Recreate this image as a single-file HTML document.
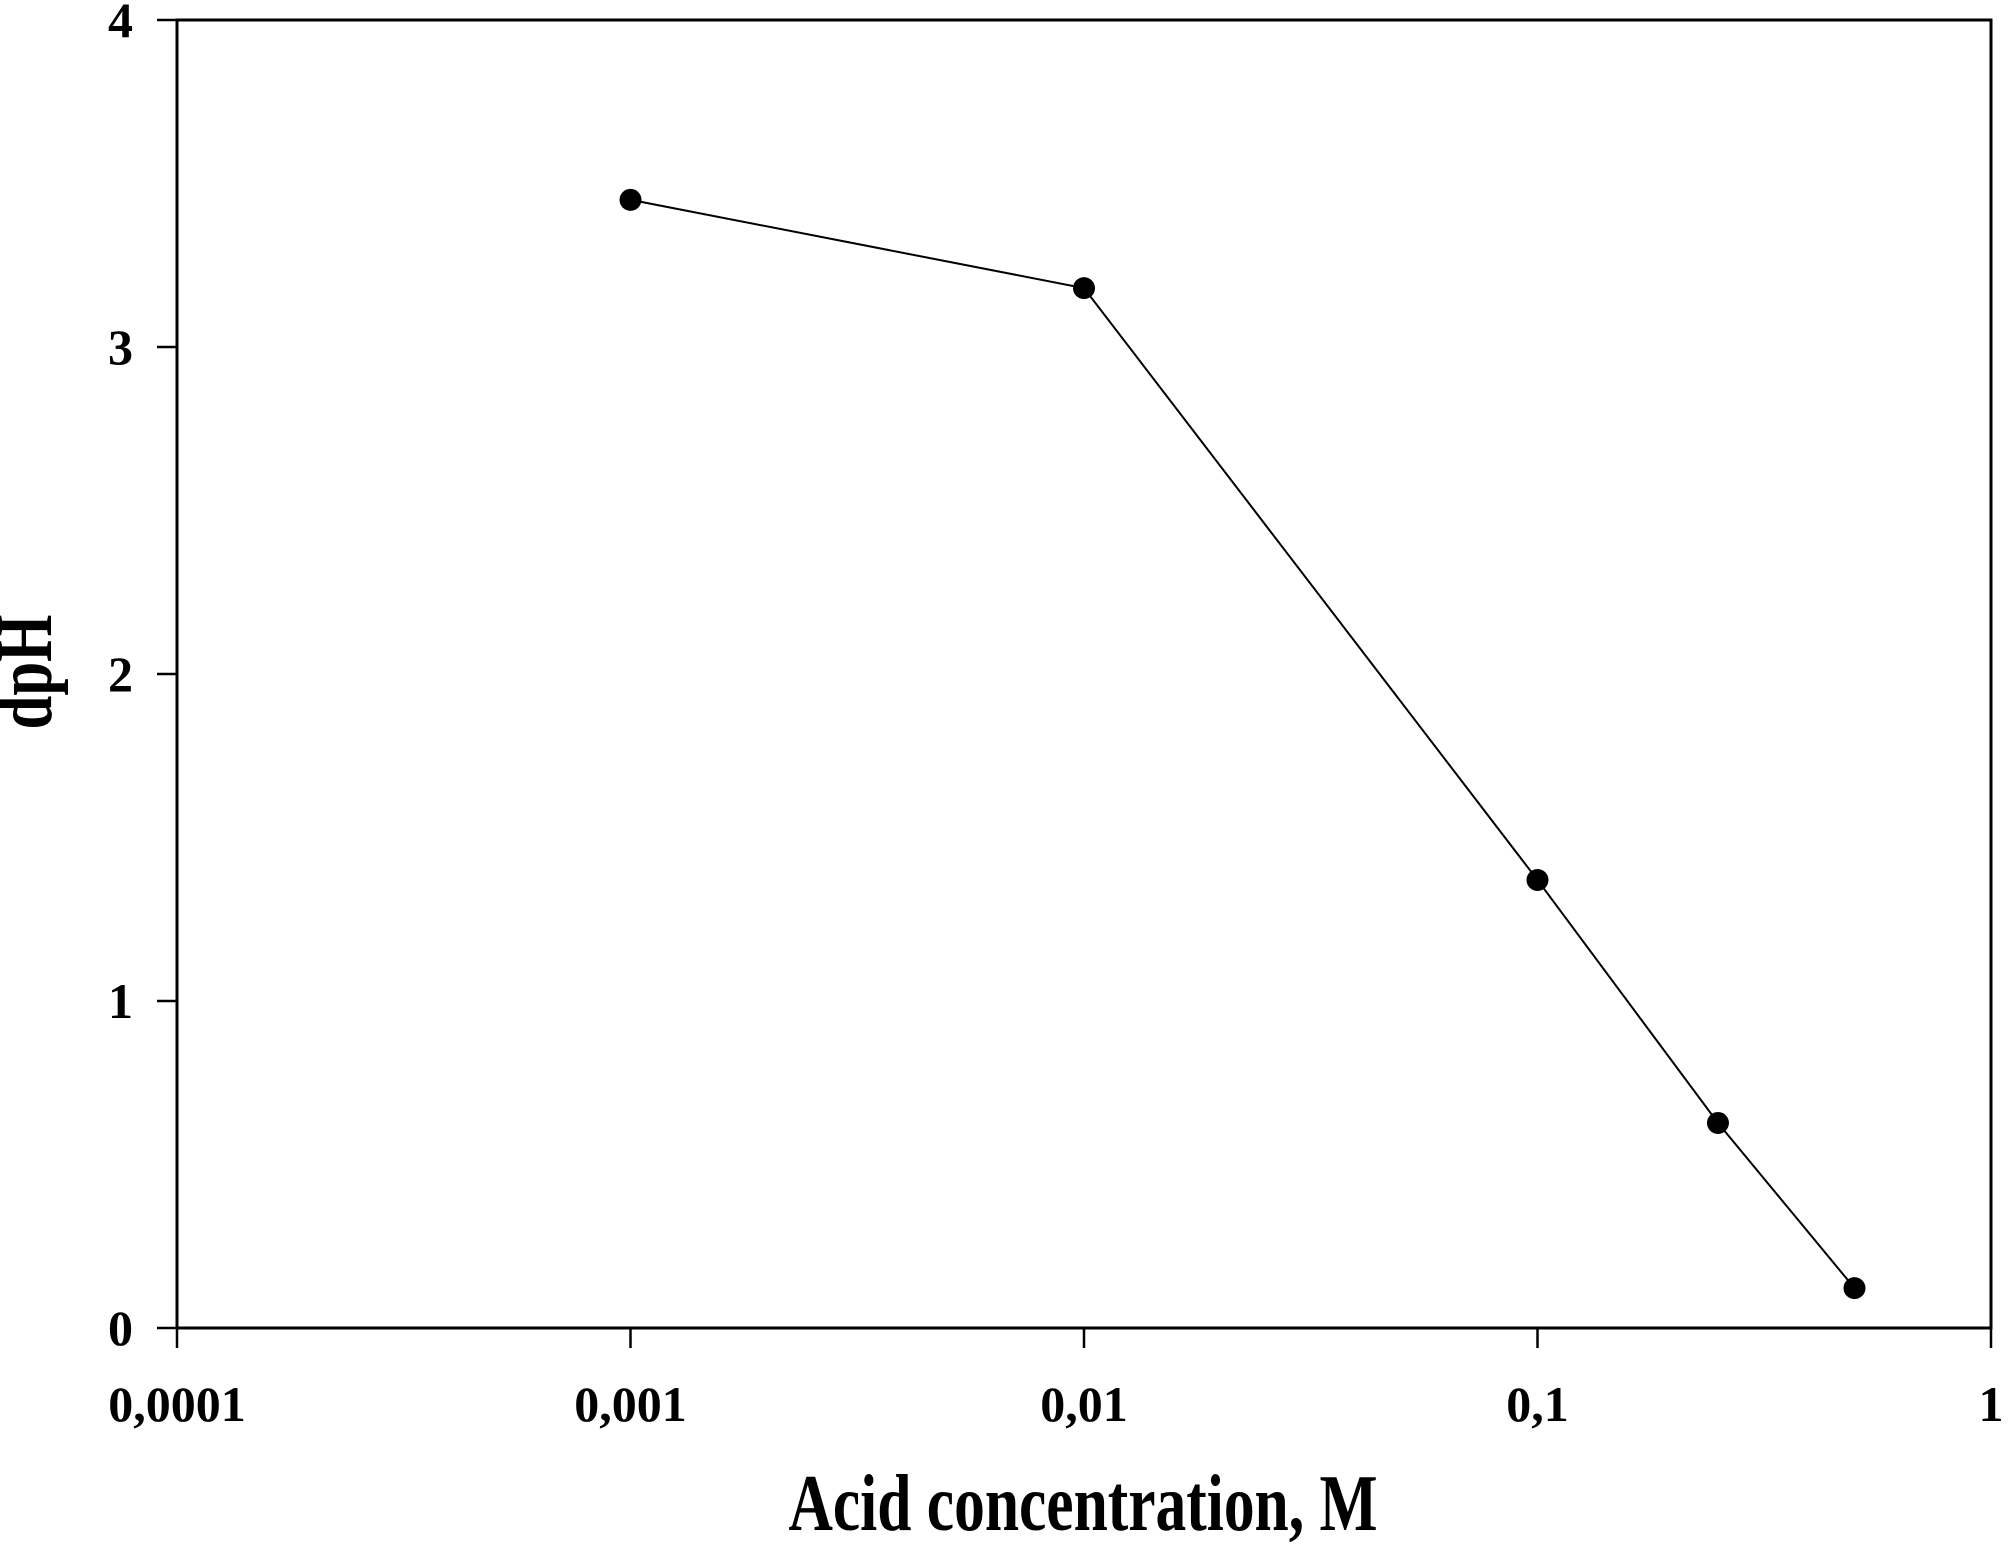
<!DOCTYPE html>
<html><head><meta charset="utf-8"><style>
html,body{margin:0;padding:0;background:#fff;}
svg text{font-family:"Liberation Serif",serif;font-weight:bold;fill:#000;}
</style></head><body>
<svg id="chart" width="2008" height="1542" viewBox="0 0 2008 1542" xmlns="http://www.w3.org/2000/svg">
<g id="axes"></g>
<g id="series"></g>
<text x="1083" y="1530" font-size="80" text-anchor="middle" textLength="589" lengthAdjust="spacingAndGlyphs">Acid concentration, M</text>
<text transform="translate(51,672) rotate(-90)" font-size="80" text-anchor="middle" textLength="115" lengthAdjust="spacingAndGlyphs">dpH</text>
</svg>
<script>
const xValues = [0.001, 0.01, 0.1, 0.25, 0.5];
const yValues = [3.45, 3.18, 1.37, 0.627, 0.122];
const xTicks = [0.0001, 0.001, 0.01, 0.1, 1];
const xTickLabels = ["0,0001", "0,001", "0,01", "0,1", "1"];
const yTicks = [0, 1, 2, 3, 4];
const yTickLabels = ["0", "1", "2", "3", "4"];

const NS = "http://www.w3.org/2000/svg";
const L = 177, R = 1991, T = 20, B = 1328;
const xMin = -4, xMax = 0, yMin = 0, yMax = 4;
function sx(v){ return L + (Math.log10(v) - xMin) / (xMax - xMin) * (R - L); }
function sy(v){ return B - (v - yMin) / (yMax - yMin) * (B - T); }
function mk(tag, attrs, parent){
  const e = document.createElementNS(NS, tag);
  for (const k in attrs) e.setAttribute(k, attrs[k]);
  parent.appendChild(e);
  return e;
}
const axes = document.getElementById('axes');
const frame = mk('rect', {x:L, y:T, width:R-L, height:B-T, fill:'none', stroke:'#000', 'stroke-width':3}, axes);


xTicks.forEach((v, i) => {
  const x = sx(v);
  const t = mk('line', {x1:x, x2:x, y1:B, y2:B+20, stroke:'#000', 'stroke-width':2.5}, axes);
  
  
  const lb = mk('text', {x:x, y:1421, 'font-size':50, 'text-anchor':'middle'}, axes);
  lb.textContent = xTickLabels[i];
  
  
});
yTicks.forEach((v, i) => {
  const y = sy(v);
  const t = mk('line', {x1:L-20, x2:L, y1:y, y2:y, stroke:'#000', 'stroke-width':2.5}, axes);
  
  
  const lb = mk('text', {x:133, y:y+17, 'font-size':50, 'text-anchor':'end'}, axes);
  lb.textContent = yTickLabels[i];
  
  
});
const series = document.getElementById('series');
const pts = xValues.map((v, i) => sx(v).toFixed(1) + ',' + sy(yValues[i]).toFixed(1)).join(' ');
const line = mk('polyline', {points:pts, fill:'none', stroke:'#000', 'stroke-width':2}, series);


xValues.forEach((v, i) => {
  const c = mk('circle', {cx:sx(v), cy:sy(yValues[i]), r:11, fill:'#000'}, series);
  
  
});
</script>
</body></html>
